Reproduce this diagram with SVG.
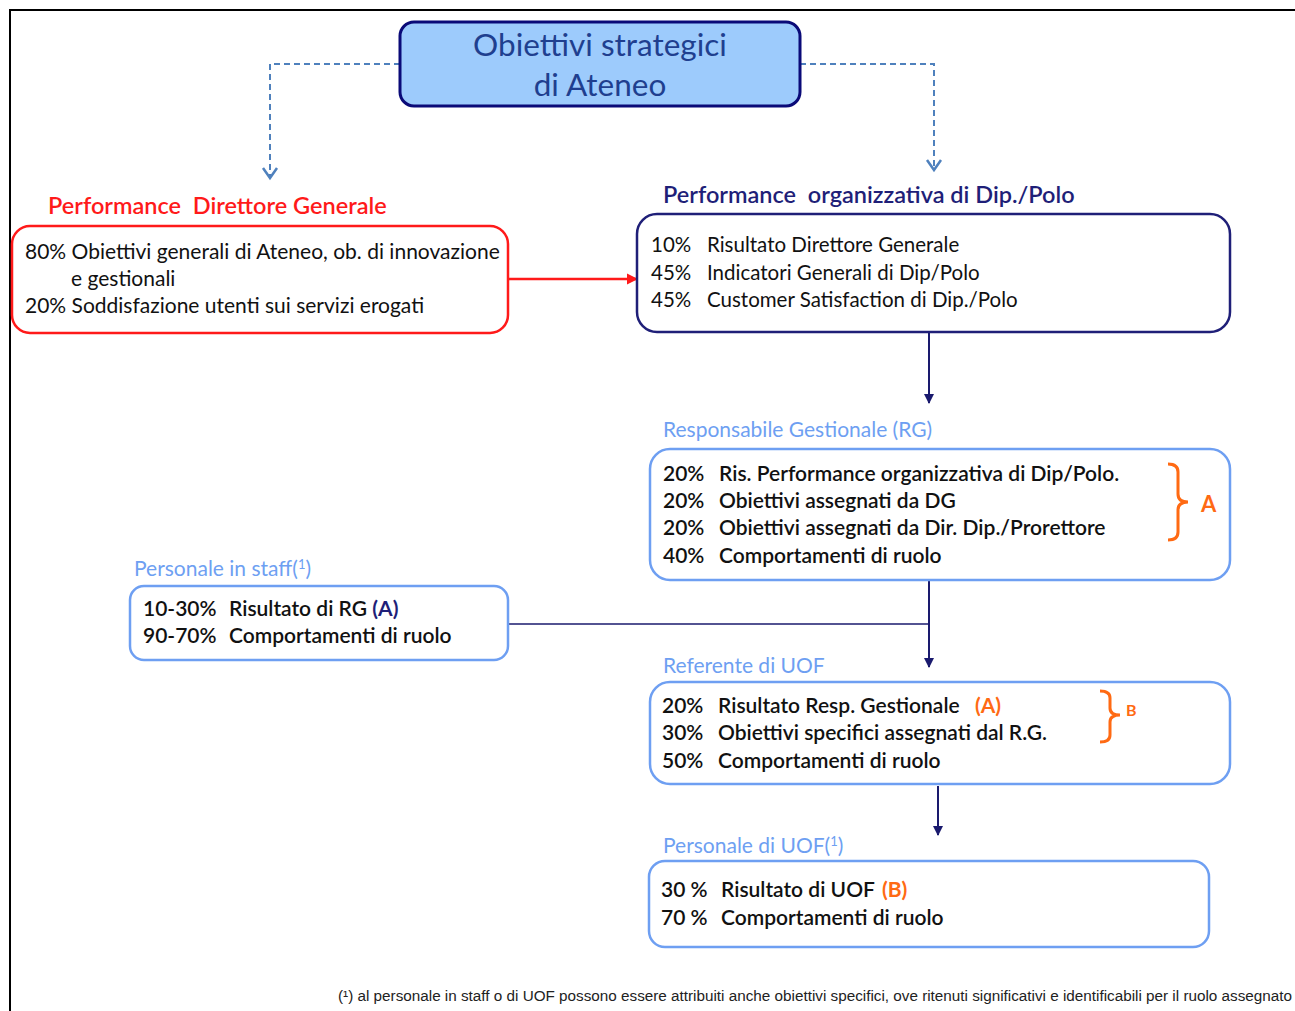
<svg xmlns="http://www.w3.org/2000/svg" width="1295" height="1011" viewBox="0 0 1295 1011" xml:space="preserve">
  <defs>
    <style>
      .t { font-family: Lato, "Liberation Sans", sans-serif; white-space: pre; }
      .head-red { fill: #ff1a1a; font-size: 23.5px; font-weight: 600; }
      .head-navy { fill: #1f1f78; font-size: 23.5px; font-weight: 600; }
      .head-blue { fill: #6e9ff2; font-size: 21px; }
      .body { fill: #111; font-size: 21px; }
      .body-b { fill: #111; font-size: 21px; font-weight: 600; }
      .org { fill: #111; font-size: 20.5px; }
      .orange { fill: #ff6a13; font-weight: 700; }
      .navyb { fill: #1f1f78; font-weight: 700; }
      .box-red { fill: #fff; stroke: #ff1a1a; stroke-width: 2.5; }
      .box-navy { fill: #fff; stroke: #1f1f78; stroke-width: 2.5; }
      .box-blue { fill: #fff; stroke: #6e9ff2; stroke-width: 2.5; }
      .dash { fill: none; stroke: #4f81bd; stroke-width: 2; stroke-dasharray: 6 4; }
      .chev { fill: none; stroke: #4f81bd; stroke-width: 2.5; }
      .navy-line { fill: none; stroke: #1a1a6e; stroke-width: 2; }
      .brace { fill: none; stroke: #ff6a13; stroke-width: 3; }
    </style>
    <marker id="navyHead" viewBox="0 0 10 10" refX="9" refY="5" markerWidth="5" markerHeight="5" orient="auto">
      <path d="M0,0 L10,5 L0,10 Z" fill="#1a1a6e"/>
    </marker>
    <marker id="redHead" viewBox="0 0 10 10" refX="9" refY="5" markerWidth="4.5" markerHeight="4.5" orient="auto">
      <path d="M0,0 L10,5 L0,10 Z" fill="#ff1a1a"/>
    </marker>
  </defs>

  <!-- page frame -->
  <path d="M10,1011 V10 H1295" fill="none" stroke="#000" stroke-width="2"/>

  <!-- connectors -->
  <g id="connectors">
    <path class="dash" d="M400,64 H270 V176"/>
    <path class="chev" d="M263,168 L270,178 L277,168"/>
    <path class="dash" d="M800,64 H934 V168"/>
    <path class="chev" d="M927,160 L934,170 L941,160"/>
    <path d="M508,279 H637" stroke="#ff1a1a" stroke-width="2.5" fill="none" marker-end="url(#redHead)"/>
    <path class="navy-line" d="M929,333 V403" marker-end="url(#navyHead)"/>
    <path class="navy-line" d="M929,581 V667" marker-end="url(#navyHead)"/>
    <path d="M508,624 H929" stroke="#1a1a6e" stroke-width="1.6" fill="none"/>
    <path class="navy-line" d="M938,786 V835" marker-end="url(#navyHead)"/>
  </g>

  <!-- strategic objectives -->
  <g id="obiettivi">
    <rect x="400" y="22" width="400" height="84" rx="14" fill="#9dcbfc" stroke="#0a0a78" stroke-width="3"/>
    <text class="t" x="600" y="56" text-anchor="middle" font-size="31.5" fill="#1f3f8f">Obiettivi strategici</text>
    <text class="t" x="600" y="96" text-anchor="middle" font-size="31.5" fill="#1f3f8f">di Ateneo</text>
  </g>

  <!-- general director -->
  <g id="direttore">
    <text class="t head-red" x="48" y="214">Performance  Direttore Generale</text>
    <rect class="box-red" x="12" y="226" width="496" height="107" rx="18"/>
    <text class="t body" x="25" y="259">80% Obiettivi generali di Ateneo, ob. di innovazione</text>
    <text class="t body" x="71" y="286">e gestionali</text>
    <text class="t body" x="25" y="313">20% Soddisfazione utenti sui servizi erogati</text>
  </g>

  <!-- organisational performance -->
  <g id="organizzativa">
    <text class="t head-navy" x="663" y="203">Performance  organizzativa di Dip./Polo</text>
    <rect class="box-navy" x="637" y="214" width="593" height="118" rx="20"/>
    <text class="t org" x="651" y="252">10%</text>
    <text class="t org" x="707" y="252">Risultato Direttore Generale</text>
    <text class="t org" x="651" y="280">45%</text>
    <text class="t org" x="707" y="280">Indicatori Generali di Dip/Polo</text>
    <text class="t org" x="651" y="307">45%</text>
    <text class="t org" x="707" y="307">Customer Satisfaction di Dip./Polo</text>
  </g>

  <!-- management officer -->
  <g id="responsabile">
    <text class="t head-blue" x="663" y="437">Responsabile Gestionale (RG)</text>
    <rect class="box-blue" x="650" y="449" width="580" height="131" rx="20"/>
    <text class="t body-b" x="663" y="481">20%</text>
    <text class="t body-b" x="719" y="481">Ris. Performance organizzativa di Dip/Polo.</text>
    <text class="t body-b" x="663" y="508">20%</text>
    <text class="t body-b" x="719" y="508">Obiettivi assegnati da DG</text>
    <text class="t body-b" x="663" y="535">20%</text>
    <text class="t body-b" x="719" y="535">Obiettivi assegnati da Dir. Dip./Prorettore</text>
    <text class="t body-b" x="663" y="563">40%</text>
    <text class="t body-b" x="719" y="563">Comportamenti di ruolo</text>
    <path class="brace" d="M1168,464 Q1178,464 1178,472 V494 Q1178,502 1188,502 Q1178,502 1178,510 V532 Q1178,540 1168,540"/>
    <text class="t orange" x="1201" y="512" font-size="22">A</text>
  </g>

  <!-- staff personnel -->
  <g id="staff">
    <text class="t head-blue" x="134" y="576">Personale in staff(<tspan font-size="13" dy="-7">1</tspan><tspan dy="7">)</tspan></text>
    <rect class="box-blue" x="130" y="586" width="378" height="74" rx="14"/>
    <text class="t body-b" x="143" y="616">10-30%</text>
    <text class="t body-b" x="229" y="616">Risultato di RG <tspan class="navyb">(A)</tspan></text>
    <text class="t body-b" x="143" y="643">90-70%</text>
    <text class="t body-b" x="229" y="643">Comportamenti di ruolo</text>
  </g>

  <!-- UOF referent -->
  <g id="referente">
    <text class="t head-blue" x="663" y="673">Referente di UOF</text>
    <rect class="box-blue" x="650" y="682" width="580" height="102" rx="20"/>
    <text class="t body-b" x="662" y="713">20%</text>
    <text class="t body-b" x="718" y="713">Risultato Resp. Gestionale</text>
    <text class="t body orange" x="975" y="713">(A)</text>
    <text class="t body-b" x="662" y="740">30%</text>
    <text class="t body-b" x="718" y="740">Obiettivi specifici assegnati dal R.G.</text>
    <text class="t body-b" x="662" y="768">50%</text>
    <text class="t body-b" x="718" y="768">Comportamenti di ruolo</text>
    <path class="brace" d="M1100,691 Q1110,691 1110,698 V708 Q1110,715 1120,715 Q1110,715 1110,722 V735 Q1110,742 1100,742"/>
    <text class="t orange" x="1126" y="716" font-size="16">B</text>
  </g>

  <!-- UOF personnel -->
  <g id="personale-uof">
    <text class="t head-blue" x="663" y="853">Personale di UOF(<tspan font-size="13" dy="-7">1</tspan><tspan dy="7">)</tspan></text>
    <rect class="box-blue" x="649" y="861" width="560" height="86" rx="16"/>
    <text class="t body-b" x="661" y="897">30 %</text>
    <text class="t body-b" x="721" y="897">Risultato di UOF</text>
    <text class="t body orange" x="882" y="897">(B)</text>
    <text class="t body-b" x="661" y="925">70 %</text>
    <text class="t body-b" x="721" y="925">Comportamenti di ruolo</text>
  </g>

  <!-- footnote -->
  <text x="338" y="1001" font-family="Liberation Sans Narrow, Liberation Sans, sans-serif" font-size="14" fill="#222" textLength="954" lengthAdjust="spacingAndGlyphs">(¹) al personale in staff o di UOF possono essere attribuiti anche obiettivi specifici, ove ritenuti significativi e identificabili per il ruolo assegnato</text>
</svg>
